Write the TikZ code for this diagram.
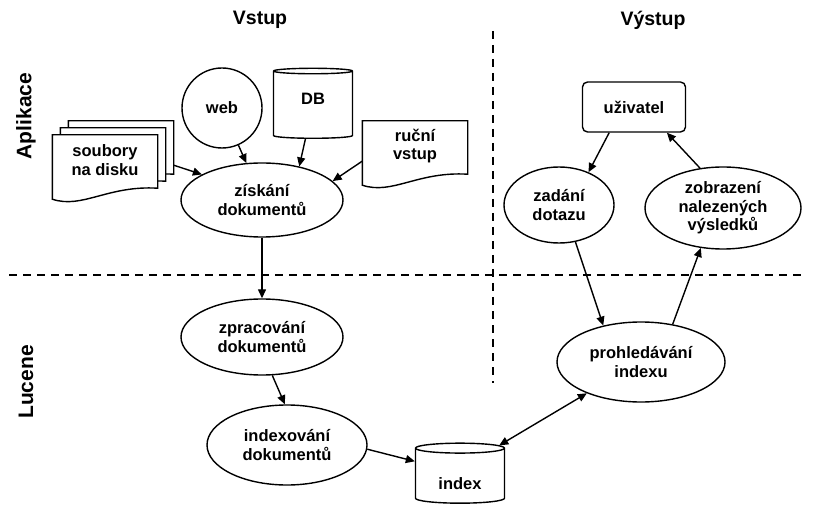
\documentclass[tikz,border=0pt]{standalone}
\usepackage{fontspec}
\setmainfont{Liberation Sans}
\usetikzlibrary{positioning, arrows.meta, shapes.geometric, calc, backgrounds}

% obrys dokumentu s vlnitym spodkem
\newcommand{\docshape}[1]{%
  \draw[line width=1.4pt, fill=white] (#1.north west) -- (#1.north east)
    -- ($(#1.south east)+(0,3)$)
    .. controls ($(#1.south east)+(-50,0)$) and ($(#1.south west)+(30,24)$)
    .. ($(#1.south west)+(0,14)$) -- cycle;}

\begin{document}
\begin{tikzpicture}[x=1pt, y=-1pt,
  every node/.style={font=\fontsize{16.5}{18.5}\selectfont\bfseries, align=center, inner sep=0pt},
  proc/.style={ellipse, draw, line width=1.4pt, fill=white},
  source/.style={circle, draw, line width=1.4pt, fill=white, minimum size=80pt},
  store/.style={cylinder, shape border rotate=90, aspect=0.23, draw,
                line width=1.4pt, fill=white},
  paper/.style={rectangle, minimum width=105pt, minimum height=50pt},
  actor/.style={rectangle, rounded corners=5pt, draw, line width=1.4pt,
                fill=white, minimum width=103pt, minimum height=50pt},
  head/.style={font=\fontsize{19.5}{22}\selectfont\bfseries},
  side/.style={font=\fontsize{21}{24}\selectfont\bfseries, rotate=90},
  arr/.style={-{Triangle[length=9pt, width=8pt]}, line width=1.4pt},
  divider/.style={line width=1.4pt, dash pattern=on 8pt off 6pt}
]
\useasboundingbox (0,0) rectangle (813,510);

% hranice oblasti
\draw[divider] (9,275) -- (805,275);
\draw[divider] (493,31) -- (493,383);

% nadpisy
\node[head] (vstup)    at (260,20)  {Vstup};
\node[head] (vystup)   at (653,20)  {Výstup};
\node[side] (aplikace) at (26,116)  {Aplikace};
\node[side] (lucene)   at (26,382)  {Lucene};

% zdroje dokumentu
\node[paper] (soubory)  at (105,160) {soubory\\ na disku};
\node[paper] (soubory2) at ($(soubory)+(8,-7)$)  {};
\node[paper] (soubory3) at ($(soubory)+(16,-14)$) {};
\node[source] (web) at (222,108) {web};
\node[store, minimum width=79pt, minimum height=70pt, text depth=12pt] (db) at (313,105) {DB};
\node[paper] (rucni) at (415,146) {ruční\\ vstup};
\begin{scope}[on background layer]
  \docshape{soubory3}
  \docshape{soubory2}
  \docshape{soubory}
  \docshape{rucni}
\end{scope}

% indexace
\node[proc, minimum width=162pt, minimum height=74pt] (ziskani)    at (262,200) {získání\\ dokumentů};
\node[proc, minimum width=162pt, minimum height=76pt] (zpracovani) at (262,337) {zpracování\\ dokumentů};
\node[proc, minimum width=160pt, minimum height=80pt] (indexovani) at (287,445) {indexování\\ dokumentů};
\node[store, minimum width=89pt, minimum height=60pt, text height=28pt] (index) at (460,476) {index};

% vyhledavani
\node[actor] (uzivatel) at (634,107) {uživatel};
\node[proc, minimum width=110pt, minimum height=76pt] (zadani)    at (559,205) {zadání\\ dotazu};
\node[proc, minimum width=156pt, minimum height=82pt] (zobrazeni) at (723,208) {zobrazení\\ nalezených\\ výsledků};
\node[proc, minimum width=168pt, minimum height=80pt] (prohledavani) at (641,362) {prohledávání\\ indexu};

\draw[arr] (soubory3.-20) -- (ziskani.157);
\draw[arr] (web) -- (ziskani.113);
\draw[arr] (db) -- (ziskani.42);
\draw[arr] (rucni.196) -- (ziskani.15);
\draw[arr] (ziskani) -- (zpracovani);
\draw[arr] (zpracovani.-75) -- (indexovani.93);
\draw[arr] (indexovani.-3) -- (index.162);
\draw[{Triangle[length=9pt, width=8pt]}-{Triangle[length=9pt, width=8pt]}, line width=1.4pt]
  (index.38) -- (prohledavani.210);
\draw[arr] (uzivatel.226) -- (zadani.48);
\draw[arr] (zadani.-66) -- (prohledavani.136);
\draw[arr] (prohledavani.50) -- (zobrazeni.241);
\draw[arr] (zobrazeni.120) -- (uzivatel.322);
\end{tikzpicture}
\end{document}
